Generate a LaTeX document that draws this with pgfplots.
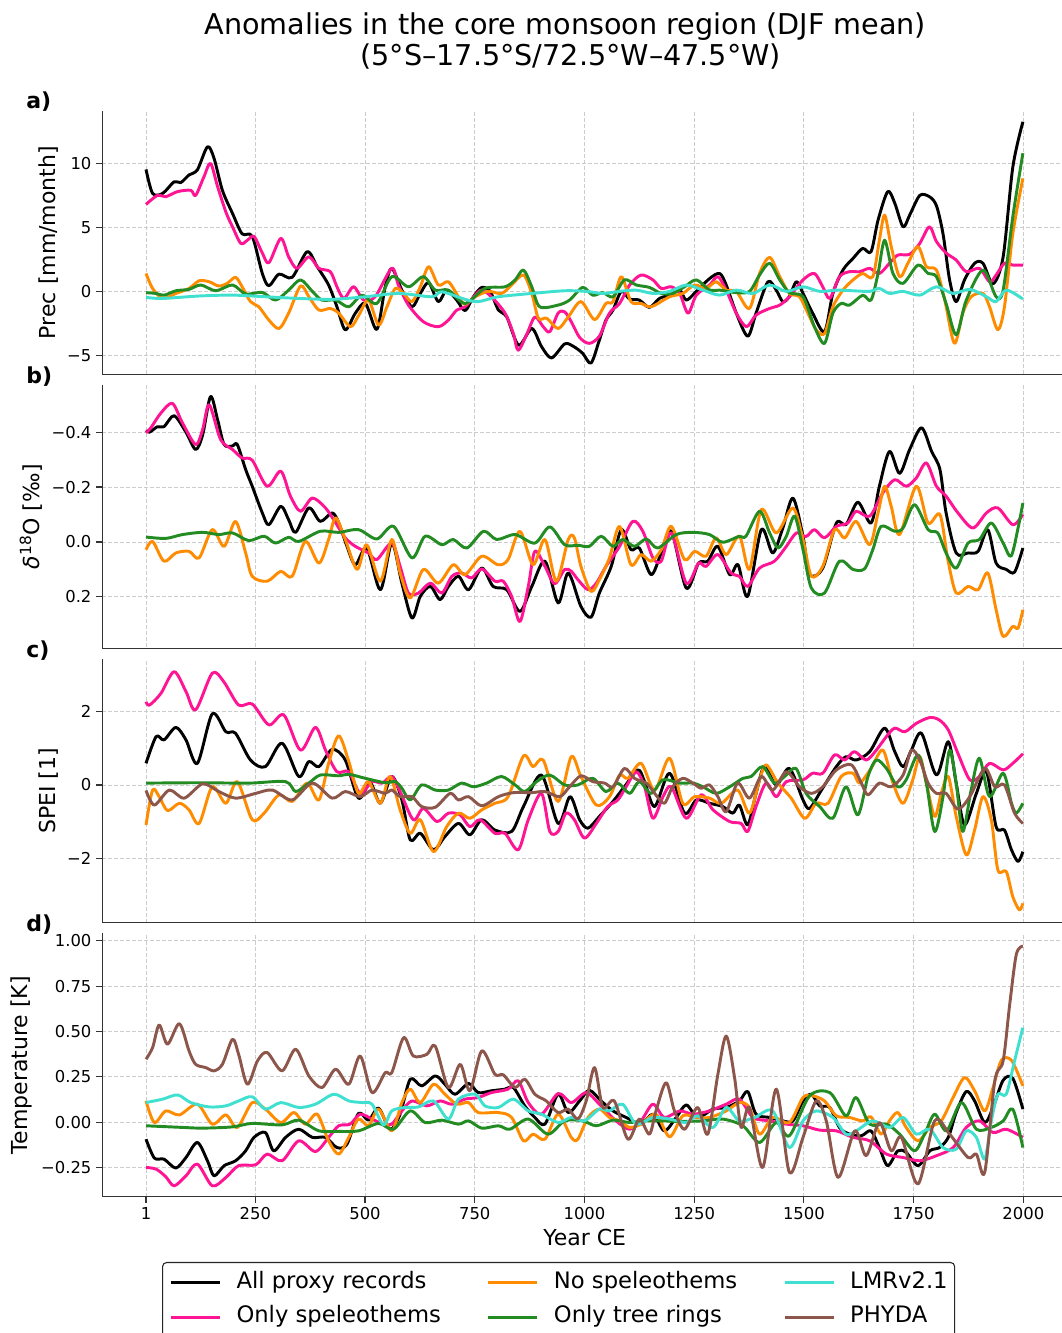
\documentclass[border=0pt]{standalone}
\usepackage{fontspec}
\setmainfont{DejaVu Sans}
\usepackage{pgfplots}
\pgfplotsset{compat=1.18}
\definecolor{cAll}{HTML}{000000}
\definecolor{cSpel}{HTML}{FF1493}
\definecolor{cNo}{HTML}{FF8C00}
\definecolor{cTree}{HTML}{228B22}
\definecolor{cLMR}{HTML}{40E0D0}
\definecolor{cPHY}{HTML}{8C564B}
\pgfplotsset{
  panel/.style={
    scale only axis, width=723.8pt, height=197.6pt, anchor=south west,
    xmin=-99, xmax=2100,
    axis x line*=bottom, axis y line*=left,
    axis line style={-, black!80, line width=0.9pt},
    tick align=outside, major tick length=4.5pt,
    tick style={black!80, line width=0.9pt},
    xtick={1,250,500,750,1000,1250,1500,1750,2000},
    grid=major,
    major grid style={black!20, dash pattern=on 3pt off 1.5pt, line width=0.6pt},
    tick label style={font=\fontsize{12.3}{14}\selectfont},
    label style={font=\fontsize{16.5}{19}\selectfont},
    every axis plot/.append style={line width=2.2pt, smooth, line join=round},
  },
  upper/.style={xticklabels={}, xtick style={draw=none}},
}
\begin{document}
\begin{tikzpicture}
\path[use as bounding box] (0,0) rectangle (796.5pt,999.75pt);

% ---------------- panel a ----------------
\begin{axis}[panel, upper, at={(76.6pt,719.0pt)},
  ymin=-6.48, ymax=14.11,
  ytick={-5,0,5,10}, yticklabels={−5,0,5,10},
  ylabel={Prec [mm/month]}]
\addplot[cAll] coordinates {(1,9.53) (16,7.66) (39,7.66) (65,8.57) (80,8.5) (99,9.1) (118,9.5) (141,11.3) (156,10.4) (175,7.9) (198,6.1) (220,4.5) (243,4.3) (266,1.4) (281,0.44) (304,1.35) (334,1.1) (368,3.1) (391,1.93) (417,0.5) (436,-1.2) (455,-3.0) (478,-1.7) (501,-0.94) (527,-2.97) (546,0.36) (561,1.8) (584,0.1) (607,-1.2) (626,-0.16) (645,0.68) (667,-0.8) (686,0.1) (709,-0.68) (728,-1.5) (747,-0.42) (766,0.31) (785,0) (804,-1.46) (823,-2.0) (850,-4.2) (880,-2.9) (902,-4.3) (925,-5.2) (955,-4.1) (975,-4.3) (996,-4.84) (1015,-5.6) (1034,-3.8) (1049,-2.24) (1065,-1.46) (1084,0) (1103,-0.6) (1125,-0.68) (1148,-1.25) (1171,-0.55) (1194,-0.29) (1217,0.1) (1232,-0.68) (1255,0) (1285,1.0) (1308,1.4) (1323,0.5) (1346,-1.7) (1372,-3.5) (1391,-1.7) (1418,0.75) (1437,0.1) (1452,-0.8) (1467,-0.4) (1483,0.76) (1498,-0.15) (1520,-1.7) (1547,-3.15) (1566,-0.16) (1589,1.67) (1612,2.58) (1634,3.36) (1653,3.1) (1669,5.57) (1691,7.8) (1707,6.9) (1726,5.05) (1741,5.96) (1764,7.5) (1786,7.4) (1802,6.7) (1817,4.5) (1832,0.9) (1847,-0.8) (1866,0.9) (1889,2.2) (1908,2.2) (1931,0.6) (1954,2.7) (1976,9.7) (1999,13.25)};
\addplot[cSpel] coordinates {(1,6.8) (27,7.5) (46,7.4) (73,7.8) (103,7.9) (114,7.5) (133,8.96) (148,10.0) (164,8.2) (183,6.2) (198,5.05) (217,3.75) (232,4.0) (247,4.3) (266,3.0) (281,2.24) (308,4.14) (326,2.7) (345,1.8) (372,2.7) (395,1.8) (421,1.54) (436,0.36) (452,-0.55) (474,0.36) (497,-0.68) (523,-0.42) (561,1.8) (576,0.5) (599,-1.07) (633,-2.37) (667,-2.76) (690,-2.24) (709,-1.46) (728,-1.2) (751,-0.29) (766,0.1) (788,-0.42) (819,-1.7) (838,-3.3) (849,-4.6) (868,-3.4) (887,-2.0) (906,-2.76) (921,-3.15) (940,-1.7) (955,-1.6) (970,-2.37) (989,-3.6) (1011,-4.06) (1034,-3.5) (1057,-1.7) (1080,-0.94) (1103,0.5) (1129,1.28) (1156,0.9) (1175,0.23) (1198,0.36) (1217,-0.16) (1236,-1.7) (1255,-0.29) (1285,0.5) (1304,1.15) (1323,0.1) (1346,-1.7) (1369,-2.76) (1391,-1.85) (1422,-1.33) (1445,-1.07) (1467,-0.42) (1498,0.9) (1524,1.4) (1543,0.36) (1559,-0.55) (1581,1.15) (1604,1.54) (1627,1.54) (1650,1.8) (1672,1.4) (1695,2.2) (1714,2.84) (1741,2.9) (1764,3.75) (1786,5.05) (1802,3.9) (1824,3.0) (1847,2.45) (1870,1.54) (1900,1.8) (1923,0.75) (1938,1.28) (1957,2.2) (1976,2.06) (1999,2.06)};
\addplot[cNo] coordinates {(1,1.4) (16,0.23) (39,-0.55) (69,-0.16) (99,0.23) (122,0.83) (145,0.75) (167,0.42) (186,0.63) (205,1.1) (220,0.36) (239,-0.8) (258,-1.2) (281,-2.24) (304,-2.9) (326,-1.7) (353,0.42) (372,-0.42) (395,-1.46) (421,-1.33) (440,-1.7) (467,-2.76) (486,-1.85) (508,-0.68) (531,-2.63) (550,-1.2) (569,0.23) (588,-0.16) (607,-0.8) (626,0.36) (645,1.93) (667,0.5) (690,0.75) (713,-0.42) (728,-1.0) (751,-0.42) (781,0) (811,-0.16) (834,0.5) (861,1.28) (880,-0.16) (895,-2.1) (914,-2.1) (940,-2.9) (963,-2.0) (992,-0.8) (1023,-2.2) (1049,-0.94) (1065,-0.8) (1084,1.15) (1106,-0.8) (1129,-0.94) (1152,-1.2) (1194,-0.42) (1224,-0.16) (1251,0.5) (1277,0.23) (1300,0.75) (1323,0.1) (1346,0) (1376,-1.33) (1399,1.4) (1422,2.66) (1445,1.15) (1467,-0.16) (1490,-0.42) (1509,-1.7) (1528,-3.0) (1547,-3.3) (1566,-1.2) (1589,0.1) (1612,0.9) (1634,1.4) (1657,1.15) (1672,4.0) (1684,5.96) (1699,3.5) (1718,1.15) (1737,2.2) (1760,3.5) (1779,1.93) (1802,1.67) (1821,-0.68) (1843,-4.06) (1862,-1.7) (1881,-0.42) (1908,-0.16) (1923,-1.2) (1942,-3.0) (1957,-1.2) (1976,4.5) (1999,8.83)};
\addplot[cTree] coordinates {(1,-0.1) (24,-0.16) (42,-0.3) (69,0.05) (99,0.16) (126,0.5) (160,0.05) (198,0.5) (228,-0.2) (266,-0.08) (296,-0.68) (326,0.1) (353,0.9) (380,0) (402,-0.68) (433,-0.68) (463,-1.2) (493,-0.3) (527,-0.94) (561,1.15) (599,0.36) (633,1.15) (660,0.1) (690,0.1) (728,-0.94) (773,0.23) (819,0.36) (842,0.9) (861,1.67) (880,0.36) (898,-1.2) (940,-1.07) (966,-0.68) (996,0.31) (1019,-0.3) (1042,-0.1) (1065,-0.42) (1091,0.9) (1118,0.5) (1148,0.31) (1175,-0.16) (1201,-0.16) (1228,0.36) (1255,0.9) (1285,0.1) (1308,0.1) (1346,-0.1) (1376,0) (1399,1.28) (1422,2.2) (1445,0.9) (1467,-0.1) (1498,-0.42) (1524,-2.76) (1547,-4.06) (1566,-1.7) (1585,-0.94) (1604,-1.07) (1634,-0.3) (1653,-0.68) (1669,1.4) (1684,4.0) (1703,1.4) (1726,0.63) (1760,2.06) (1783,1.4) (1802,1.15) (1824,-0.94) (1847,-3.4) (1870,-0.68) (1908,1.67) (1938,-0.42) (1954,0.1) (1976,5.83) (1999,10.8)};
\addplot[cLMR] coordinates {(1,-0.47) (39,-0.55) (122,-0.36) (198,-0.29) (273,-0.42) (349,-0.55) (425,-0.62) (501,-0.42) (577,-0.16) (652,-0.42) (675,-0.03) (728,-0.62) (758,-0.8) (804,-0.42) (880,-0.16) (955,0.05) (1004,0) (1042,-0.16) (1080,0) (1118,0.1) (1156,-0.16) (1194,0) (1232,0.5) (1270,0.1) (1308,-0.29) (1346,0.1) (1384,-0.16) (1422,0.5) (1460,0) (1498,0.36) (1536,0) (1574,0.1) (1612,0.05) (1650,0) (1672,0.23) (1695,-0.16) (1726,0) (1764,-0.29) (1802,0.36) (1840,-0.16) (1878,0.16) (1916,-0.42) (1938,-0.8) (1961,0.1) (1999,-0.6)};
\end{axis}

% ---------------- panel b ----------------
\begin{axis}[panel, upper, at={(76.6pt,513.4pt)},
  y dir=reverse, ymin=-0.572, ymax=0.388,
  ytick={-0.4,-0.2,0,0.2}, yticklabels={−0.4,−0.2,0.0,0.2},
  ylabel={\textit{δ}\textsuperscript{18}O [‰]}]
\addplot[cAll] coordinates {(1,-0.407) (9,-0.40) (27,-0.42) (42,-0.42) (65,-0.46) (92,-0.40) (114,-0.337) (130,-0.39) (148,-0.53) (164,-0.446) (179,-0.355) (198,-0.35) (209,-0.355) (228,-0.264) (243,-0.203) (266,-0.106) (281,-0.063) (308,-0.13) (326,-0.081) (342,-0.035) (372,-0.124) (398,-0.075) (425,-0.106) (440,-0.07) (459,0.016) (478,0.083) (504,0.022) (535,0.174) (561,0.004) (584,0.15) (607,0.277) (626,0.198) (649,0.162) (671,0.21) (690,0.162) (713,0.125) (736,0.174) (766,0.095) (792,0.162) (823,0.174) (853,0.253) (880,0.162) (910,0.07) (940,0.222) (963,0.113) (992,0.235) (1015,0.274) (1034,0.186) (1061,0.089) (1084,-0.045) (1106,0.028) (1125,0.022) (1152,0.119) (1175,0.04) (1198,-0.039) (1232,0.168) (1260,0.077) (1281,0.07) (1304,0.016) (1331,0.119) (1350,0.083) (1372,0.198) (1403,-0.045) (1429,0.04) (1452,-0.051) (1475,-0.16) (1498,-0.02) (1513,0.119) (1543,0.095) (1574,-0.069) (1596,-0.063) (1623,-0.145) (1653,-0.069) (1672,-0.203) (1695,-0.33) (1718,-0.25) (1741,-0.337) (1768,-0.416) (1791,-0.33) (1810,-0.264) (1824,-0.106) (1847,0.04) (1874,0.04) (1897,0.034) (1919,-0.045) (1938,0.077) (1961,0.10) (1980,0.11) (1999,0.022)};
\addplot[cSpel] coordinates {(1,-0.398) (12,-0.416) (35,-0.47) (61,-0.505) (84,-0.434) (114,-0.355) (130,-0.41) (145,-0.50) (171,-0.373) (198,-0.337) (220,-0.306) (243,-0.298) (277,-0.203) (308,-0.258) (330,-0.167) (353,-0.112) (380,-0.16) (410,-0.124) (433,-0.07) (455,-0.015) (478,0.016) (508,0.04) (527,0.064) (561,0.004) (580,0.089) (599,0.186) (622,0.186) (649,0.15) (675,0.186) (698,0.125) (720,0.113) (743,0.131) (766,0.098) (796,0.143) (815,0.143) (834,0.198) (853,0.29) (872,0.162) (887,0.034) (910,0.089) (932,0.152) (955,0.10) (970,0.107) (985,0.137) (1008,0.174) (1027,0.15) (1049,0.089) (1080,0.016) (1110,-0.075) (1133,-0.039) (1156,0.058) (1175,0.07) (1198,-0.033) (1232,0.15) (1260,0.077) (1277,0.089) (1304,0.046) (1334,0.113) (1353,0.125) (1372,0.162) (1399,0.095) (1433,0.07) (1460,0.016) (1483,-0.033) (1505,-0.02) (1524,-0.045) (1547,-0.015) (1574,-0.057) (1600,-0.069) (1619,-0.112) (1650,-0.094) (1680,-0.179) (1707,-0.227) (1733,-0.203) (1756,-0.233) (1779,-0.288) (1802,-0.203) (1824,-0.167) (1851,-0.106) (1885,-0.051) (1916,-0.106) (1942,-0.124) (1976,-0.063) (1999,-0.10)};
\addplot[cNo] coordinates {(1,0.028) (16,-0.002) (42,0.07) (69,0.04) (99,0.034) (122,0.058) (152,-0.045) (179,0.016) (205,-0.075) (228,0.04) (243,0.125) (277,0.143) (308,0.107) (334,0.125) (364,-0.002) (395,0.077) (417,-0.009) (433,-0.088) (455,-0.009) (482,0.10) (504,0.01) (535,0.143) (561,-0.009) (580,0.113) (603,0.204) (633,0.10) (667,0.15) (701,0.083) (728,0.119) (766,0.052) (803,0.083) (826,0.064) (853,-0.039) (883,0.083) (910,-0.009) (936,0.143) (963,-0.009) (977,-0.015) (992,0.089) (1015,0.18) (1034,0.137) (1057,0.058) (1080,-0.057) (1106,0.083) (1129,0.046) (1152,0.07) (1175,0.028) (1198,-0.057) (1228,0.064) (1251,0.034) (1277,0.052) (1300,-0.015) (1323,0.046) (1353,-0.021) (1376,0.10) (1403,-0.118) (1437,-0.033) (1475,-0.124) (1498,-0.009) (1517,0.125) (1543,0.089) (1570,-0.045) (1593,-0.015) (1619,-0.075) (1650,0.01) (1669,-0.106) (1684,-0.203) (1699,-0.13) (1718,-0.027) (1756,-0.203) (1783,-0.069) (1810,-0.10) (1828,0.064) (1847,0.186) (1874,0.162) (1897,0.174) (1919,0.113) (1938,0.247) (1954,0.344) (1976,0.308) (1988,0.314) (1999,0.247)};
\addplot[cTree] coordinates {(1,-0.018) (46,-0.013) (84,-0.027) (130,-0.035) (167,-0.027) (198,-0.033) (235,-0.005) (270,-0.021) (296,0.004) (326,-0.017) (349,-0.002) (398,-0.039) (440,-0.035) (485,-0.045) (527,-0.011) (565,-0.057) (607,0.058) (637,-0.021) (675,0.01) (701,-0.009) (732,0.022) (770,-0.039) (800,-0.009) (842,-0.027) (887,0.004) (921,-0.055) (955,0.01) (986,0.012) (1011,0.016) (1038,-0.021) (1065,0.016) (1087,-0.009) (1114,0.016) (1141,-0.011) (1167,0.022) (1209,-0.027) (1247,-0.035) (1285,-0.027) (1315,0.001) (1353,-0.021) (1368,-0.021) (1399,-0.112) (1422,-0.033) (1441,0.022) (1460,-0.021) (1479,-0.094) (1498,0.028) (1517,0.168) (1547,0.186) (1581,0.07) (1612,0.10) (1638,0.098) (1657,0.028) (1676,-0.057) (1707,-0.039) (1726,-0.051) (1752,-0.136) (1783,-0.045) (1805,-0.033) (1824,0.04) (1847,0.095) (1874,0.004) (1900,-0.009) (1927,-0.069) (1954,0.004) (1972,0.052) (1988,-0.051) (1999,-0.142)};
\end{axis}

% ---------------- panel c ----------------
\begin{axis}[panel, upper, at={(76.6pt,307.7pt)},
  ymin=-3.76, ymax=3.43,
  ytick={-2,0,2}, yticklabels={−2,0,2},
  ylabel={SPEI [1]}]
\addplot[cAll] coordinates {(1,0.59) (24,1.32) (42,1.23) (69,1.57) (92,1.23) (118,0.59) (152,1.94) (183,1.45) (205,1.41) (239,0.68) (273,0.5) (311,1.14) (349,0.23) (372,0.64) (395,0.5) (425,0.97) (455,0.68) (485,-0.36) (512,0.05) (535,-0.5) (561,0.23) (584,-0.41) (603,-1.5) (626,-1.32) (656,-1.77) (682,-1.41) (713,-1.05) (739,-1.36) (766,-0.95) (796,-1.23) (834,-1.27) (861,-0.59) (902,0.27) (940,-1.05) (967,-0.32) (989,-0.95) (1008,-1.18) (1034,-0.86) (1065,-0.45) (1091,-0.05) (1122,0.41) (1137,0.09) (1160,-0.59) (1194,0.32) (1228,-0.77) (1255,-0.41) (1285,-0.5) (1315,-0.59) (1338,-0.77) (1353,-0.55) (1372,-1.09) (1391,-0.23) (1410,0.5) (1437,0) (1467,0.45) (1498,-0.41) (1513,-0.64) (1540,-0.14) (1574,0.5) (1596,0.77) (1619,0.68) (1650,0.91) (1684,1.55) (1707,0.91) (1726,0.5) (1745,0.95) (1768,1.41) (1802,0.27) (1829,1.18) (1847,0.05) (1866,-1.09) (1893,-0.23) (1916,0.36) (1938,-1.14) (1957,-1.23) (1973,-1.77) (1988,-2.09) (1999,-1.82)};
\addplot[cSpel] coordinates {(1,2.27) (9,2.18) (35,2.5) (65,3.09) (92,2.55) (114,2.05) (152,3.05) (178,2.82) (212,2.18) (243,2.21) (281,1.64) (315,1.91) (353,0.95) (387,1.57) (410,0.95) (436,0.36) (463,0.36) (489,-0.23) (516,0.09) (539,0.05) (561,0.23) (580,-0.18) (610,-0.95) (633,-0.64) (664,-1.0) (690,-0.77) (717,-0.82) (739,-1.14) (762,-0.95) (796,-1.32) (819,-1.32) (849,-1.77) (872,-0.95) (902,-0.23) (921,-1.27) (940,-1.27) (958,-0.77) (977,-0.95) (1000,-1.45) (1027,-1.05) (1053,-0.59) (1076,-0.41) (1095,-0.05) (1118,0.36) (1137,-0.05) (1156,-0.91) (1179,-0.32) (1198,-0.05) (1232,-0.91) (1266,-0.27) (1293,-0.68) (1331,-1.0) (1357,-1.05) (1372,-1.27) (1391,-0.59) (1414,0.05) (1437,-0.32) (1460,0.09) (1498,0.14) (1520,0.32) (1543,0.32) (1570,0.82) (1593,0.68) (1615,0.91) (1642,0.68) (1665,0.95) (1688,1.32) (1707,1.55) (1730,1.45) (1756,1.68) (1787,1.84) (1809,1.77) (1829,1.5) (1851,0.86) (1878,0.14) (1900,0.23) (1923,0.59) (1954,0.41) (1976,0.59) (1999,0.85)};
\addplot[cNo] coordinates {(1,-1.09) (16,-0.14) (31,-0.32) (50,-0.7) (77,-0.5) (99,-0.68) (122,-1.05) (152,-0.05) (183,-0.5) (209,0.09) (243,-0.95) (270,-0.77) (304,-0.27) (334,-0.45) (368,0.05) (395,-0.41) (417,0.59) (440,1.34) (463,0.64) (485,-0.23) (508,0.09) (535,-0.5) (557,0.23) (580,-0.68) (603,-1.32) (626,-0.95) (656,-1.82) (686,-1.14) (713,-0.77) (739,-0.91) (766,-0.68) (796,-0.5) (826,-0.32) (861,0.79) (883,0.5) (906,0.68) (940,-0.45) (970,0.77) (992,0.23) (1027,-0.55) (1057,-0.32) (1080,0.27) (1099,0.18) (1129,0.59) (1160,-0.14) (1194,0.73) (1224,-0.5) (1251,-0.32) (1285,-0.36) (1312,-0.5) (1349,-0.14) (1376,-0.77) (1399,0.14) (1414,0.55) (1441,0.05) (1471,-0.36) (1502,-0.91) (1528,-0.5) (1555,-0.5) (1585,0.23) (1612,0.32) (1627,0.05) (1653,0.45) (1680,0.95) (1703,0.05) (1726,-0.5) (1748,0.14) (1764,0.77) (1779,0.05) (1798,-0.86) (1813,-0.23) (1829,0.23) (1847,-0.86) (1870,-1.91) (1889,-1.23) (1908,-0.32) (1927,-0.95) (1942,-2.32) (1961,-2.36) (1976,-3.05) (1991,-3.41) (1999,-3.23)};
\addplot[cTree] coordinates {(1,0.05) (122,0.06) (236,0.05) (319,0.09) (342,-0.18) (372,0.05) (398,0.27) (440,0.25) (463,0.29) (501,0.18) (546,0.06) (569,0.09) (584,-0.09) (603,-0.41) (629,0) (660,-0.14) (690,-0.14) (720,0.05) (747,-0.05) (777,0.05) (811,0.23) (842,0) (864,-0.18) (891,0.09) (921,0.27) (955,0) (985,0) (1019,0.18) (1049,-0.18) (1076,0.05) (1103,-0.23) (1125,0.09) (1152,-0.23) (1179,0.14) (1217,0.05) (1247,0.05) (1270,-0.05) (1300,-0.23) (1331,-0.05) (1361,0.18) (1380,0.23) (1406,0.5) (1433,0.05) (1456,0.23) (1482,0.45) (1505,-0.23) (1536,-0.59) (1566,-0.91) (1596,-0.05) (1623,-0.82) (1646,0.23) (1665,0.68) (1688,0.45) (1714,-0.05) (1733,0.14) (1760,0.82) (1779,0.05) (1798,-1.27) (1817,-0.32) (1832,0.95) (1847,0.05) (1862,-1.27) (1881,-0.14) (1900,0.73) (1923,-0.32) (1954,0.32) (1973,-0.5) (1984,-0.77) (1999,-0.5)};
\addplot[cPHY] coordinates {(1,-0.15) (20,-0.55) (54,-0.14) (88,-0.36) (130,0.03) (167,-0.18) (205,-0.36) (251,-0.23) (289,-0.14) (334,-0.41) (380,0.05) (425,-0.36) (455,-0.18) (489,-0.32) (516,-0.14) (546,-0.23) (561,-0.14) (580,-0.32) (607,-0.32) (629,-0.59) (660,-0.61) (694,-0.23) (713,-0.41) (736,-0.32) (766,-0.57) (804,-0.32) (838,-0.21) (880,-0.21) (910,-0.18) (944,-0.32) (966,-0.05) (992,0.25) (1019,0.09) (1046,0.05) (1065,-0.05) (1091,0.45) (1114,0.18) (1141,0.05) (1160,-0.23) (1182,-0.5) (1201,-0.05) (1224,0.18) (1247,0.05) (1266,-0.09) (1285,0) (1304,-0.32) (1323,-0.73) (1349,0.05) (1376,-0.36) (1403,0.23) (1429,-0.14) (1460,0.36) (1490,-0.05) (1517,-0.23) (1543,-0.05) (1574,0.41) (1608,0.55) (1631,0.05) (1646,-0.27) (1672,0.05) (1699,-0.05) (1726,0.27) (1745,0.95) (1764,0.68) (1783,0.05) (1802,-0.23) (1824,-0.23) (1851,-0.66) (1878,-0.32) (1912,0.45) (1935,-0.05) (1957,0) (1980,-0.77) (1999,-1.05)};
\end{axis}

% ---------------- panel d ----------------
\begin{axis}[panel, at={(76.6pt,102.1pt)},
  ymin=-0.412, ymax=1.041,
  ytick={-0.25,0,0.25,0.5,0.75,1}, yticklabels={−0.25,0.00,0.25,0.50,0.75,1.00},
  xticklabels={1,250,500,750,1000,1250,1500,1750,2000},
  ylabel={Temperature [K]},
  xlabel={Year CE},
  xlabel style={at={(axis description cs:0.5,0)}, anchor=base, yshift=-36.8pt},
  legend columns=3,
  legend cell align=left,
  legend image code/.code={\draw[#1, line width=2.2pt] (0pt,0pt) -- (36.75pt,0pt);},
  legend style={at={(axis description cs:0.0621,-0.2472)}, anchor=north west,
    draw=black!85, rounded corners=3pt, line width=0.8pt,
    font=\fontsize{17}{20}\selectfont,
    inner xsep=5.25pt, inner ysep=2pt,
    nodes={inner xsep=0pt, inner ysep=4.6pt, text height=12.6pt, text depth=4.2pt},
    /tikz/every odd column/.append style={column sep=11.25pt},
    /tikz/every even column/.append style={column sep=34.5pt}},
  ]
\addlegendimage{cAll}\addlegendentry{All proxy records}
\addlegendimage{cNo}\addlegendentry{No speleothems}
\addlegendimage{cLMR}\addlegendentry{LMRv2.1}
\addlegendimage{cSpel}\addlegendentry{Only speleothems}
\addlegendimage{cTree}\addlegendentry{Only tree rings}
\addlegendimage{cPHY}\addlegendentry{PHYDA}
\addplot[cAll, forget plot] coordinates {(1,-0.094) (20,-0.198) (42,-0.204) (69,-0.253) (92,-0.195) (118,-0.112) (141,-0.213) (156,-0.296) (179,-0.24) (205,-0.213) (228,-0.158) (247,-0.084) (273,-0.057) (292,-0.158) (319,-0.084) (349,-0.039) (380,-0.084) (410,-0.084) (436,-0.14) (459,-0.121) (485,0.048) (508,0.011) (531,0.077) (557,-0.039) (580,0.044) (603,0.237) (629,0.2) (660,0.255) (682,0.209) (705,0.154) (736,0.213) (758,0.163) (788,0.173) (819,0.182) (838,0.191) (864,0.09) (887,0.026) (910,-0.011) (940,0.154) (963,0.053) (989,0.117) (1011,0.176) (1038,0.117) (1065,0.062) (1095,0.026) (1129,-0.011) (1156,0.044) (1182,-0.048) (1209,0.026) (1232,0.095) (1258,0.026) (1293,0.072) (1323,0.081) (1353,0.117) (1372,0.169) (1391,0.044) (1422,0.026) (1452,0.007) (1475,0.007) (1498,0.117) (1517,0.154) (1536,0.09) (1559,0.081) (1581,-0.029) (1604,-0.066) (1631,-0.075) (1653,-0.048) (1672,-0.14) (1691,-0.24) (1714,-0.158) (1733,-0.167) (1760,-0.24) (1787,-0.158) (1809,-0.14) (1829,-0.084) (1847,0.053) (1870,0.169) (1889,0.117) (1912,-0.002) (1931,0.081) (1954,0.231) (1976,0.242) (1999,0.072)};
\addplot[cSpel, forget plot] coordinates {(1,-0.25) (24,-0.259) (46,-0.301) (65,-0.351) (92,-0.296) (118,-0.231) (152,-0.351) (183,-0.305) (212,-0.24) (251,-0.235) (277,-0.176) (311,-0.213) (349,-0.103) (387,-0.162) (417,-0.084) (440,-0.02) (466,-0.011) (489,0.044) (516,0.017) (542,-0.011) (561,-0.011) (584,0.062) (607,0.117) (641,0.09) (671,0.117) (698,0.099) (728,0.127) (758,0.136) (788,0.163) (826,0.182) (849,0.228) (872,0.108) (902,0.044) (940,0.158) (970,0.108) (1004,0.163) (1034,0.099) (1072,0.007) (1103,-0.039) (1129,0.007) (1156,0.099) (1182,0.026) (1217,0.062) (1247,0.044) (1285,0.062) (1323,0.099) (1353,0.127) (1384,0.026) (1422,0.007) (1460,-0.011) (1498,-0.02) (1536,-0.044) (1574,-0.048) (1612,-0.084) (1650,-0.103) (1688,-0.176) (1726,-0.195) (1764,-0.213) (1802,-0.185) (1840,-0.14) (1870,-0.029) (1900,0.007) (1931,-0.057) (1961,-0.039) (1999,-0.084)};
\addplot[cNo, forget plot] coordinates {(1,0.117) (20,-0.002) (46,0.062) (77,0.04) (118,0.099) (152,-0.011) (183,0.04) (209,-0.029) (243,0.108) (273,0.072) (308,-0.002) (338,0.053) (364,-0.011) (391,0.044) (417,-0.103) (440,-0.176) (463,-0.084) (485,0.017) (508,-0.02) (531,0.072) (561,-0.048) (584,0.108) (603,0.182) (626,0.108) (656,0.209) (682,0.154) (709,0.099) (736,0.108) (758,0.053) (804,0.053) (834,0.026) (861,-0.103) (883,-0.066) (910,-0.094) (940,0.044) (970,-0.084) (985,-0.094) (1008,0.026) (1034,0.072) (1057,0.026) (1080,0.007) (1103,-0.029) (1129,-0.011) (1163,0.044) (1194,-0.081) (1224,0.035) (1255,0.026) (1285,0.026) (1323,0.062) (1353,0.108) (1376,0.081) (1399,-0.066) (1429,0.026) (1467,-0.002) (1498,0.136) (1520,0.145) (1547,0.117) (1574,0.035) (1604,0.026) (1634,0.007) (1653,0.029) (1676,-0.066) (1695,0.007) (1714,0.053) (1733,-0.029) (1760,-0.103) (1787,-0.029) (1813,0.007) (1840,0.136) (1866,0.246) (1889,0.173) (1912,0.062) (1931,0.191) (1950,0.341) (1973,0.341) (1999,0.2)};
\addplot[cTree, forget plot] coordinates {(1,-0.02) (84,-0.029) (130,-0.033) (198,-0.026) (243,-0.007) (311,-0.015) (349,0.011) (395,-0.048) (440,-0.051) (485,-0.048) (531,-0.007) (565,-0.039) (603,0.062) (637,-0.002) (675,0.011) (713,-0.011) (736,0.007) (766,-0.033) (804,-0.02) (830,-0.039) (872,0.017) (917,-0.066) (955,0.007) (996,0.007) (1027,-0.02) (1065,0.011) (1103,-0.002) (1137,0.007) (1179,0.007) (1217,0.004) (1270,0.007) (1315,0.017) (1361,-0.02) (1399,-0.112) (1437,-0.002) (1467,-0.075) (1513,0.145) (1559,0.163) (1596,0.035) (1619,0.136) (1650,-0.011) (1688,-0.011) (1718,-0.066) (1752,-0.158) (1775,-0.066) (1798,0.044) (1825,-0.048) (1859,0.108) (1893,-0.039) (1927,-0.029) (1954,0.007) (1976,0.072) (1999,-0.14)};
\addplot[cLMR, forget plot] coordinates {(1,0.108) (39,0.127) (73,0.15) (103,0.108) (145,0.084) (183,0.09) (212,0.117) (243,0.14) (273,0.072) (308,0.108) (349,0.081) (387,0.099) (429,0.154) (463,0.117) (493,0.108) (516,0.099) (542,-0.015) (561,0.062) (591,0.081) (622,0.084) (656,0.117) (690,0.017) (713,0.127) (751,0.154) (773,0.09) (804,0.081) (838,0.127) (872,0.062) (902,0.044) (940,-0.002) (970,0.026) (1000,0.007) (1034,0.072) (1057,0.062) (1087,0.099) (1118,-0.011) (1156,0.026) (1194,0.017) (1232,-0.002) (1258,0.035) (1293,-0.029) (1323,0.081) (1353,0.007) (1388,0.026) (1429,0.062) (1467,-0.14) (1498,0.007) (1528,0.062) (1566,0.026) (1596,-0.066) (1619,-0.048) (1657,0.007) (1695,-0.029) (1726,0.026) (1756,-0.066) (1787,-0.039) (1817,-0.14) (1847,-0.149) (1870,-0.048) (1893,-0.084) (1912,-0.204) (1927,0.007) (1942,0.154) (1961,0.154) (1980,0.338) (1999,0.521)};
\addplot[cPHY, forget plot] coordinates {(1,0.347) (16,0.411) (31,0.536) (50,0.43) (77,0.543) (99,0.393) (114,0.319) (137,0.301) (156,0.283) (175,0.319) (198,0.457) (212,0.374) (232,0.209) (255,0.338) (277,0.384) (311,0.283) (342,0.402) (372,0.255) (402,0.191) (433,0.292) (463,0.209) (489,0.365) (516,0.163) (546,0.273) (561,0.273) (588,0.466) (610,0.365) (641,0.374) (660,0.42) (690,0.191) (717,0.319) (739,0.173) (766,0.393) (796,0.264) (815,0.261) (842,0.191) (864,0.237) (887,0.154) (913,0.117) (940,0.053) (963,0.072) (985,0.017) (1004,0.117) (1023,0.301) (1042,0.081) (1068,0.117) (1099,-0.094) (1125,0.017) (1148,-0.066) (1163,0.062) (1186,0.218) (1205,0.062) (1228,-0.039) (1258,0.081) (1281,-0.066) (1304,0.264) (1323,0.475) (1342,0.246) (1357,-0.029) (1376,0.081) (1406,-0.25) (1437,0.182) (1467,-0.277) (1498,-0.084) (1528,0.117) (1551,0.007) (1578,-0.305) (1616,-0.048) (1642,-0.185) (1672,-0.002) (1699,-0.158) (1722,-0.084) (1760,-0.341) (1798,0.007) (1832,-0.066) (1874,-0.195) (1893,-0.176) (1912,-0.277) (1935,0.228) (1954,0.338) (1969,0.65) (1984,0.925) (1999,0.971)};
\end{axis}

% titles and panel letters
\node[anchor=base, font=\fontsize{21.5}{24}\selectfont] at (424pt,973.5pt) {Anomalies in the core monsoon region (DJF mean)};
\node[anchor=base, font=\fontsize{21.5}{24}\selectfont] at (428pt,950.25pt) {(5°S–17.5°S/72.5°W–47.5°W)};
\node[anchor=base west, font=\bfseries\fontsize{16.5}{19}\selectfont, inner sep=0pt] at (19.5pt,918pt) {a)};
\node[anchor=base west, font=\bfseries\fontsize{16.5}{19}\selectfont, inner sep=0pt] at (19.5pt,712.2pt) {b)};
\node[anchor=base west, font=\bfseries\fontsize{16.5}{19}\selectfont, inner sep=0pt] at (19.5pt,506.5pt) {c)};
\node[anchor=base west, font=\bfseries\fontsize{16.5}{19}\selectfont, inner sep=0pt] at (19.5pt,300.9pt) {d)};
\end{tikzpicture}
\end{document}
